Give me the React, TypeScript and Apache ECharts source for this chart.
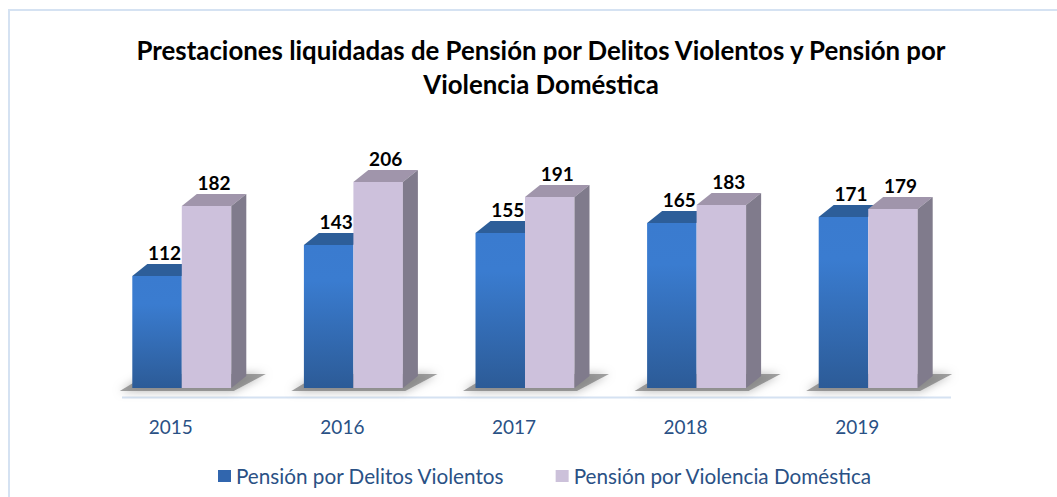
import React, { useEffect, useRef } from "react";
import * as echarts from "echarts";

const years = ["2015", "2016", "2017", "2018", "2019"];
const violentCrimes = [112, 143, 155, 165, 171];
const domesticViolence = [182, 206, 191, 183, 179];
const seriesNames = ["Pensión por Delitos Violentos", "Pensión por Violencia Doméstica"];
const titleText = "Prestaciones liquidadas de Pensión por Delitos Violentos y Pensión por\nViolencia Doméstica";

const DX = 15;
const DY = 12;
const BAR_W = 49.5;
const PAIR_SHIFT = 11;

function barRender(leftOff: number, colors: { front: any; top: string; side: string }, showSide: boolean) {
  return (params: any, api: any) => {
    const idx = api.value(0);
    const v = api.value(1);
    const top = api.coord([idx, v]);
    const base = api.coord([idx, 0]);
    const x0 = top[0] + leftOff;
    const x1 = x0 + BAR_W;
    const y0 = top[1];
    const yb = base[1];
    const children: any[] = [
      {
        type: "rect",
        shape: { x: x0, y: y0, width: BAR_W, height: yb - y0 },
        style: { fill: colors.front },
      },
      {
        type: "polygon",
        shape: { points: [[x0, y0], [x0 + DX, y0 - DY], [x1 + DX, y0 - DY], [x1, y0]] },
        style: { fill: colors.top },
      },
    ];
    if (showSide) {
      children.push({
        type: "polygon",
        shape: { points: [[x1, y0], [x1 + DX, y0 - DY], [x1 + DX, yb - DY], [x1, yb]] },
        style: { fill: colors.side },
      });
    }
    children.push({
      type: "text",
      style: {
        text: String(v),
        x: x0 + BAR_W / 2 + DX / 2,
        y: y0 - DY - 2,
        align: "center",
        verticalAlign: "bottom",
        fontSize: 19,
        fontWeight: "bold",
        fontFamily: "Lato",
        fill: "#000000",
      },
    });
    return { type: "group", children };
  };
}

function shadowRender(params: any, api: any) {
  const idx = api.value(0);
  const base = api.coord([idx, 0]);
  const c = base[0] + PAIR_SHIFT;
  const yb = base[1];
  return {
    type: "polygon",
    shape: {
      points: [
        [c - 62, yb + 3],
        [c + 52, yb + 3],
        [c + 84, yb - 14],
        [c - 34, yb - 14],
      ],
    },
    style: {
      fill: "rgba(90,90,90,0.55)",
      shadowBlur: 10,
      shadowColor: "rgba(0,0,0,0.55)",
    },
  };
}

export default function App() {
  const ref = useRef<HTMLDivElement>(null);
  useEffect(() => {
    if (!ref.current) return;
    const chart = echarts.init(ref.current, null, { renderer: "svg" });
    const blueFront = new echarts.graphic.LinearGradient(0, 0, 0, 1, [
      { offset: 0, color: "#3A7BCF" },
      { offset: 0.25, color: "#3A7CD0" },
      { offset: 1, color: "#2C5B97" },
    ]);
    const dataA = years.map((_, i) => [i, violentCrimes[i]]);
    const dataB = years.map((_, i) => [i, domesticViolence[i]]);
    chart.setOption({
      animation: false,
      backgroundColor: "#ffffff",
      title: {
        text: titleText,
        left: 536,
        textAlign: "center",
        top: 28,
        textStyle: {
          fontFamily: "Lato",
          fontWeight: "bold",
          fontSize: 25.8,
          lineHeight: 34,
          color: "#000000",
        },
      },
      legend: {
        left: 218,
        top: 465,
        padding: 0,
        itemWidth: 13,
        itemHeight: 12,
        itemGap: 51,
        icon: "rect",
        textStyle: { fontFamily: "Lato", fontSize: 20.7, color: "#2A5185", lineHeight: 22 },
        data: [
          { name: seriesNames[0], itemStyle: { color: "#3166AE" } },
          { name: seriesNames[1], itemStyle: { color: "#CCC1DA" } },
        ],
      },
      grid: { left: 85, right: 114, top: 138, bottom: 109 },
      xAxis: {
        type: "category",
        data: years,
        axisLine: { show: false },
        axisTick: { show: false },
        splitLine: { show: false },
        axisLabel: {
          margin: 29,
          fontFamily: "Lato",
          fontSize: 19,
          color: "#2A5185",
        },
      },
      yAxis: { type: "value", min: 0, max: 250, show: false, splitLine: { show: false } },
      graphic: [
        {
          type: "rect",
          shape: { x: 9, y: 10, width: 1120, height: 600 },
          style: { fill: "none", stroke: "#D5E2F2", lineWidth: 2 },
          silent: true,
        },
        {
          type: "line",
          shape: { x1: 122, y1: 397.5, x2: 951, y2: 397.5 },
          style: { stroke: "#D5E2F2", lineWidth: 2 },
          silent: true,
        },
      ],
      series: [
        {
          type: "custom",
          name: "shadow",
          data: dataA,
          encode: { x: 0, y: 1 },
          renderItem: shadowRender,
          silent: true,
          z: 1,
        },
        {
          type: "custom",
          name: seriesNames[0],
          data: dataA,
          encode: { x: 0, y: 1 },
          itemStyle: { color: "#3166AE" },
          renderItem: barRender(PAIR_SHIFT - BAR_W, { front: blueFront, top: "#2D5E99", side: "#24497A" }, false),
          z: 2,
        },
        {
          type: "custom",
          name: seriesNames[1],
          data: dataB,
          encode: { x: 0, y: 1 },
          itemStyle: { color: "#CCC1DA" },
          renderItem: barRender(PAIR_SHIFT, { front: "#CDC1DC", top: "#A095AB", side: "#807B8C" }, true),
          z: 3,
        },
      ],
    });
    return () => chart.dispose();
  }, []);
  return (
    <div
      ref={ref}
      style={{ position: "fixed", left: 0, top: 0, width: 1057, height: 497 }}
    />
  );
}
